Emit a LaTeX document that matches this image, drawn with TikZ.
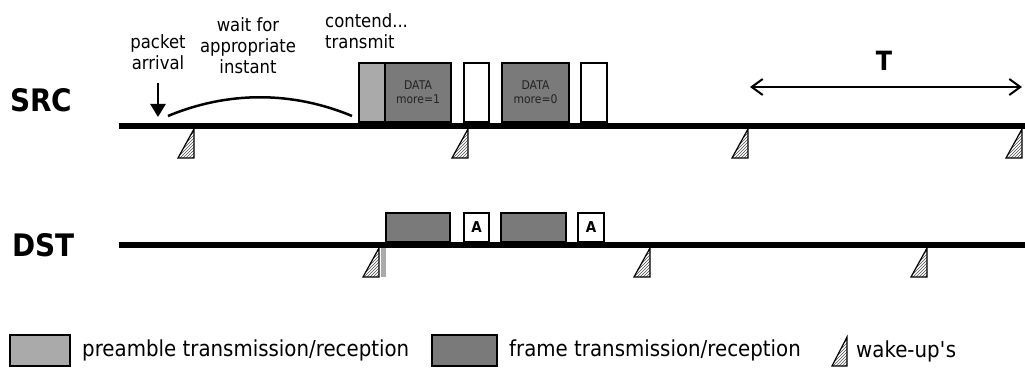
\documentclass[tikz,border=0pt]{standalone}
\usepackage{fontspec}
\setmainfont{DejaVu Sans}[FakeStretch=0.9]
\usepackage{tikz}
\usetikzlibrary{arrows.meta, patterns, positioning}
\definecolor{preamblegray}{RGB}{170,170,170}
\definecolor{framegray}{RGB}{122,122,122}
\definecolor{datatext}{RGB}{35,35,35}
\tikzset{
  basebox/.style={rectangle,draw=black,line width=1.6pt,inner sep=0pt,outer sep=0pt},
  prebox/.style={basebox,fill=preamblegray},
  framebox/.style={basebox,fill=framegray,text=datatext,align=center,font=\fontsize{12}{14}\selectfont},
  ackbox/.style={basebox,fill=white,font=\bfseries\fontsize{15}{15}\selectfont},
  timeline/.style={line width=6pt},
  rowlabel/.style={anchor=west,inner sep=0pt,font=\bfseries\fontsize{31}{31}\selectfont},
  notelabel/.style={align=center,inner sep=0pt,font=\fontsize{18.3}{21}\selectfont},
  legendtext/.style={inner sep=0pt,font=\fontsize{22}{24}\selectfont},
  wakeup/.style={draw=black,line width=1.2pt,pattern=north east lines,pattern color=black!70},
  arr/.style={-{Triangle[length=13pt,width=15pt]},line width=2.5pt},
  periodarr/.style={{Straight Barb[length=11pt,width=16pt]}-{Straight Barb[length=11pt,width=16pt]},line width=2pt}
}

\begin{document}
\begin{tikzpicture}[x=1pt,y=-1pt]
  \useasboundingbox (0,0) rectangle (1025,374);

  %% row labels
  \node[rowlabel] (src) at (10,100) {SRC};
  \node[rowlabel] (dst) at (12,245) {DST};

  %% notes above SRC
  \node[notelabel] (packet) at (158,52) {packet\\arrival};
  \node[notelabel] (wait) at (248,46) {wait for\\appropriate\\instant};
  \node[notelabel,align=left,anchor=west] (contend) at (325,31) {contend...\\transmit};
  \coordinate (arrivalstart) at (158,83);
  \coordinate (arrivaltip) at (158,117);
  \draw[arr] (arrivalstart) -- (arrivaltip);
  \coordinate (waitstart) at (168,116);
  \coordinate (waitend) at (352,116);
  \draw[line width=2.5pt] (waitstart) .. controls (228,91) and (292,91) .. (waitend);

  %% period
  \node[inner sep=0pt,font=\bfseries\fontsize{26.5}{26.5}\selectfont] (period) at (884,61) {T};
  \coordinate (tleft) at (750,87);
  \coordinate (tright) at (1022,87);
  \draw[periodarr] (tleft) -- (tright);

  %% SRC transmissions
  \node[prebox,anchor=south west,minimum width=26pt,minimum height=59pt] (srcpre) at (359,122) {};
  \node[framebox,minimum width=66pt,minimum height=59pt,right=0pt of srcpre] (srcdata1) {DATA\\more=1};
  \node[basebox,fill=white,minimum width=25pt,minimum height=59pt,right=13pt of srcdata1] (srcack1) {};
  \node[framebox,minimum width=67pt,minimum height=59pt,right=13pt of srcack1] (srcdata0) {DATA\\more=0};
  \node[basebox,fill=white,minimum width=26pt,minimum height=59pt,right=12pt of srcdata0] (srcack0) {};

  %% DST receptions
  \node[framebox,anchor=south west,minimum width=64pt,minimum height=29pt] (dstdata1) at (386,242) {};
  \node[ackbox,minimum width=25pt,minimum height=29pt,right=14pt of dstdata1] (dstack1) {A};
  \node[framebox,minimum width=65pt,minimum height=29pt,right=12pt of dstack1] (dstdata0) {};
  \node[ackbox,minimum width=26pt,minimum height=29pt,right=12pt of dstdata0] (dstack0) {A};

  %% time lines
  \draw[timeline] (119,126) -- (1025,126);
  \draw[timeline] (119,245) -- (1025,245);

  %% wake-ups
  \foreach \x in {194,468,748,1022}
    \draw[wakeup] (\x,129) -- (\x,158) -- (\x-16,158) -- cycle;
  \fill[preamblegray] (381,248) rectangle (386,277);
  \foreach \x in {379,650,927}
    \draw[wakeup] (\x,248) -- (\x,277) -- (\x-16,277) -- cycle;

  %% legend
  \node[prebox,anchor=south west,minimum width=60pt,minimum height=31pt] (legpre) at (10,366) {};
  \node[legendtext,right=12pt of legpre] (legpretext) {preamble transmission/reception};
  \node[framebox,anchor=south west,minimum width=65pt,minimum height=31pt] (legframe) at (432,366) {};
  \node[legendtext,right=12pt of legframe] (legframetext) {frame transmission/reception};
  \draw[wakeup] (847,337) -- (847,366) -- (832,366) -- cycle;
  \node[legendtext,anchor=west] (legwaketext) at (856,351) {wake-up\textquotesingle s};
\end{tikzpicture}
\end{document}
